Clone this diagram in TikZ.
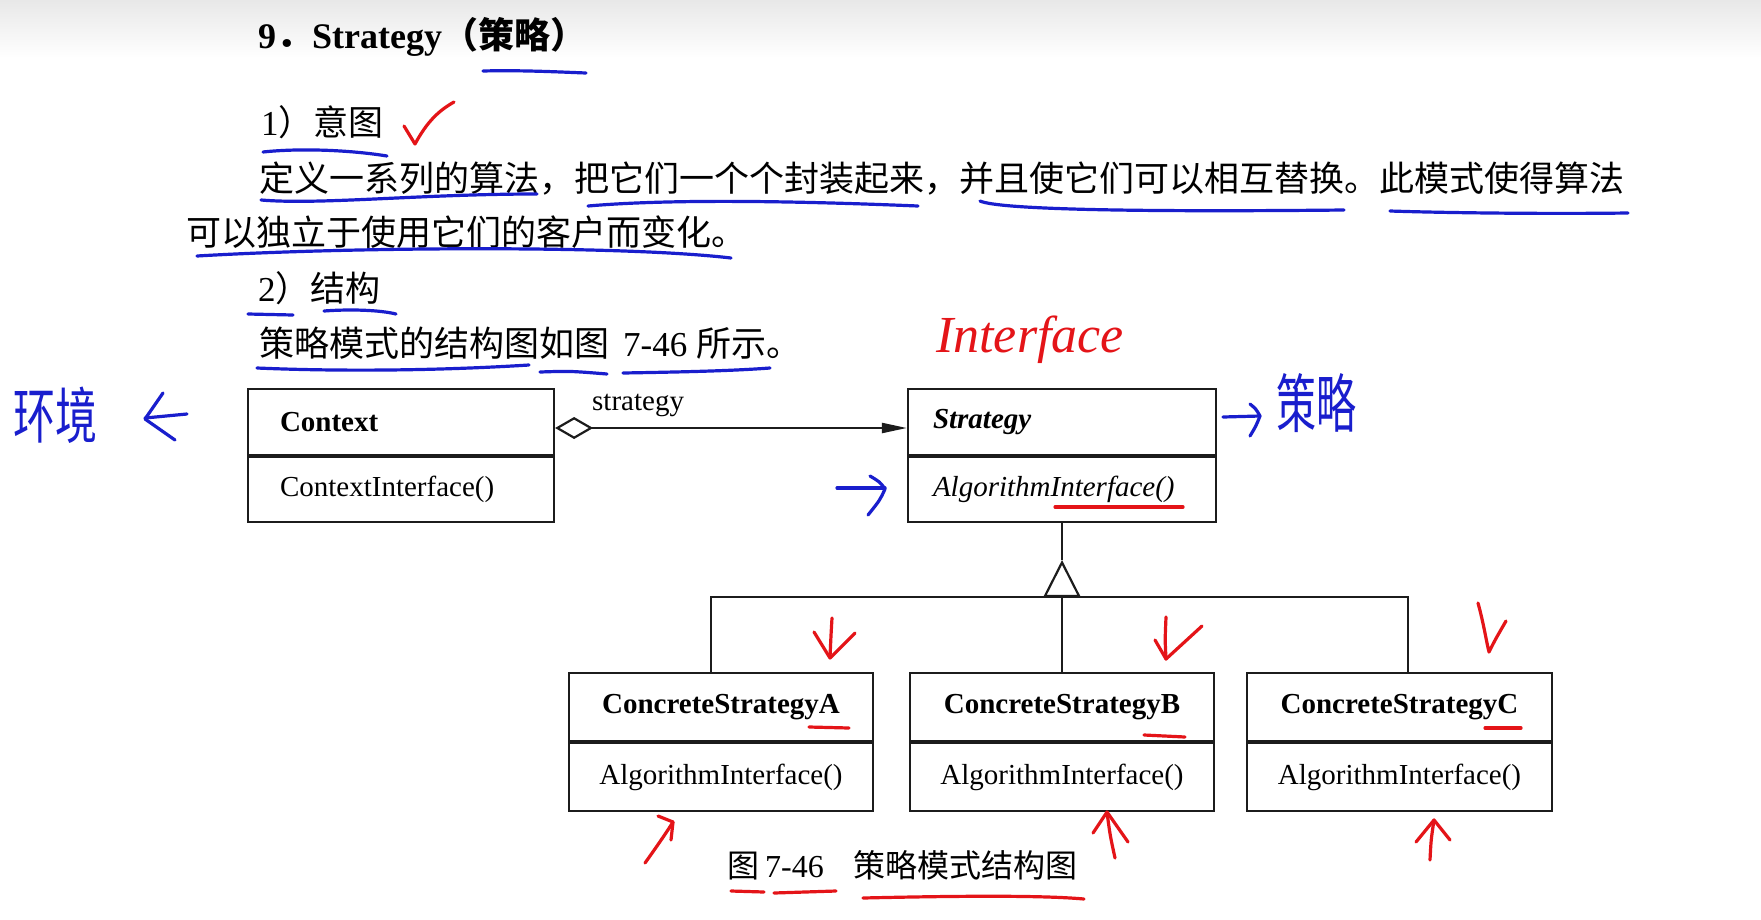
\documentclass[tikz,border=0pt]{standalone}
\usepackage{fontspec}
\usepackage{graphicx}
\setmainfont{Liberation Serif}
\newfontfamily\cjk{Noto Sans CJK SC}
\usetikzlibrary{arrows.meta,calc}
\newcommand\setfs[1]{\fontsize{#1}{#1}\selectfont}

\definecolor{inkblue}{RGB}{25,30,205}
\definecolor{inkred}{RGB}{228,20,24}
\definecolor{umlline}{RGB}{28,28,28}

\begin{document}
\begin{tikzpicture}[x=1pt,y=-1pt,
  txt/.style={anchor=base west, inner sep=0pt, font=\setfs{35}},
  cls/.style={draw=umlline, line width=2.2pt, inner ysep=0pt, font=\setfs{29}},
  clsleft/.style={cls, align=left},
  umlconn/.style={draw=umlline, line width=2.2pt},
  bluepen/.style={draw=inkblue, line width=3.2pt, line cap=round, line join=round},
  redpen/.style={draw=inkred, line width=3.2pt, line cap=round, line join=round}
]
\useasboundingbox (0,0) rectangle (1761,919);
\fill[white] (0,0) rectangle (1761,919);
\shade[top color=black!9, bottom color=white] (0,0) rectangle (1761,58);

% ---- text of the page ----
\node[txt, font=\setfs{36}\bfseries] (title) at (258,48) {9{\cjk ．}Strategy{\cjk （策略）}};
\node[txt] (h1) at (261,135) {1{\cjk ）意图}};
\node[txt] (p1) at (259,191) {\cjk 定义一系列的算法，把它们一个个封装起来，并且使它们可以相互替换。此模式使得算法};
\node[txt] (p2) at (186,245) {\cjk 可以独立于使用它们的客户而变化。};
\node[txt] (h2) at (258,301) {2{\cjk ）结构}};
\node[txt] (p3) at (259,356) {{\cjk 策略模式的结构图如图}\hspace{14pt}7-46\hspace{9pt}{\cjk 所示。}};

% ---- class diagram ----
\node[clsleft, text width=242pt, inner xsep=32pt, minimum height=66pt] (ctx) at (401,422) {\bfseries Context};
\node[clsleft, text width=242pt, inner xsep=32pt, minimum height=65pt, anchor=north] (ctxop) at (ctx.south) {ContextInterface()};

\node[clsleft, text width=258pt, inner xsep=25pt, minimum height=66pt] (strat) at (1062,422) {\bfseries\itshape Strategy};
\node[clsleft, text width=258pt, inner xsep=25pt, minimum height=65pt, anchor=north] (stratop) at (strat.south) {\itshape AlgorithmInterface()};

\node[cls, minimum width=304pt, minimum height=68pt] (ca) at (721,707) {\bfseries ConcreteStrategyA};
\node[cls, minimum width=304pt, minimum height=68pt, anchor=north] (caop) at (ca.south) {AlgorithmInterface()};
\node[cls, minimum width=304pt, minimum height=68pt] (cb) at (1062,707) {\bfseries ConcreteStrategyB};
\node[cls, minimum width=304pt, minimum height=68pt, anchor=north] (cbop) at (cb.south) {AlgorithmInterface()};
\node[cls, minimum width=305pt, minimum height=68pt] (cc) at (1399.5,707) {\bfseries ConcreteStrategyC};
\node[cls, minimum width=305pt, minimum height=68pt, anchor=north] (ccop) at (cc.south) {AlgorithmInterface()};

% association Context -> Strategy
\draw[umlconn, {Diamond[open,length=38pt,width=22pt]}-{Triangle[length=25pt,width=10pt]}]
  ([yshift=-6pt]ctx.east) -- ([yshift=-6pt]strat.west);
\node[anchor=base west, inner sep=0pt, font=\setfs{29}] (role) at (592,410) {strategy};

% generalization
\coordinate (hub) at (1062,597);
\coordinate (apex) at (1062,560);
\draw[umlconn] (stratop.south) -- (apex);
\draw[umlconn, -{Triangle[open,length=37pt,width=37pt]}] (hub) -- (apex);
\draw[umlconn] (cb.north) -- (hub);
\draw[umlconn] ([xshift=-10pt]ca.north) |- (hub) -| ([xshift=8.5pt]cc.north);

% caption
\node[txt, font=\setfs{32}] (cap) at (727,877) {{\cjk 图}\hspace{6pt}7-46\hspace{30pt}{\cjk 策略模式结构图}};

% ---- blue pen notes ----
\draw[bluepen] (483,71) .. controls (520,70) and (560,72) .. (586,73);
\draw[bluepen] (263,152) .. controls (300,148) and (350,150) .. (387,156);
\draw[bluepen] (261,200) .. controls (320,205) and (420,194) .. (537,194);
\draw[bluepen] (588,206) .. controls (680,198) and (820,202) .. (918,206);
\draw[bluepen] (980,201) .. controls (1000,210) and (1150,212) .. (1344,210);
\draw[bluepen] (1390,211) .. controls (1450,213) and (1550,214) .. (1628,213);
\draw[bluepen] (197,256) .. controls (350,247) and (620,245) .. (731,258);
\draw[bluepen] (248,314) -- (293,315);
\draw[bluepen] (324,311) .. controls (350,309) and (380,310) .. (396,314);
\draw[bluepen] (257,368) .. controls (350,372) and (450,370) .. (529,365);
\draw[bluepen] (540,372) .. controls (570,371) .. (607,374);
\draw[bluepen] (623,373) .. controls (680,372) and (730,371) .. (770,368);

\node[inner sep=0pt, text=inkblue, font=\cjk\setfs{42}] (env) at (55,415) {\scalebox{1}[1.45]{环境}};
\draw[bluepen] (145,418) -- (187,414);
\draw[bluepen] (163,393) -- (145,419) -- (175,440);

\draw[bluepen] (837,488) -- (885,488);
\draw[bluepen] (870,476) .. controls (880,482) .. (885,489) .. controls (880,500) .. (868,515);

\draw[bluepen] (1223,417) -- (1260,416);
\draw[bluepen] (1250,404) .. controls (1256,409) .. (1260,416) .. controls (1256,426) .. (1250,436);
\node[inner sep=0pt, text=inkblue, font=\cjk\setfs{40}] (strnote) at (1316,403) {\scalebox{1}[1.6]{策略}};

% ---- red pen notes ----
\draw[redpen] (404,126) .. controls (410,135) .. (415,144) .. controls (428,120) and (440,110) .. (454,102);
\node[inner sep=0pt, text=inkred, font=\setfs{52}\itshape] (iface) at (1030,340) {Interface};
\draw[redpen] (1055,507) -- (1183,507);

\draw[redpen] (832,618) .. controls (831,635) .. (830,657);
\draw[redpen] (814,632) .. controls (822,645) .. (830,658) .. controls (840,648) .. (855,633);
\draw[redpen] (1166,617) .. controls (1165,640) .. (1166,659);
\draw[redpen] (1155,640) -- (1166,659) -- (1202,626);
\draw[redpen] (1478,603) .. controls (1484,625) and (1486,640) .. (1489,652) .. controls (1495,640) .. (1506,621);

\draw[redpen] (809,727) -- (849,728);
\draw[redpen] (1144,735) -- (1185,737);
\draw[redpen] (1485,728) -- (1521,728);

\draw[redpen] (645,863) .. controls (660,842) and (668,830) .. (673,822);
\draw[redpen] (658,816) -- (673,822) -- (671,840);
\draw[redpen] (1115,858) .. controls (1110,835) .. (1107,812);
\draw[redpen] (1093,833) -- (1107,812) -- (1128,842);
\draw[redpen] (1430,860) .. controls (1431,840) .. (1434,820);
\draw[redpen] (1416,842) -- (1434,820) -- (1450,840);

\draw[redpen] (731,891) -- (764,892);
\draw[redpen] (774,893) -- (836,891);
\draw[redpen] (863,898) .. controls (950,896) and (1040,895) .. (1084,899);
\end{tikzpicture}
\end{document}
